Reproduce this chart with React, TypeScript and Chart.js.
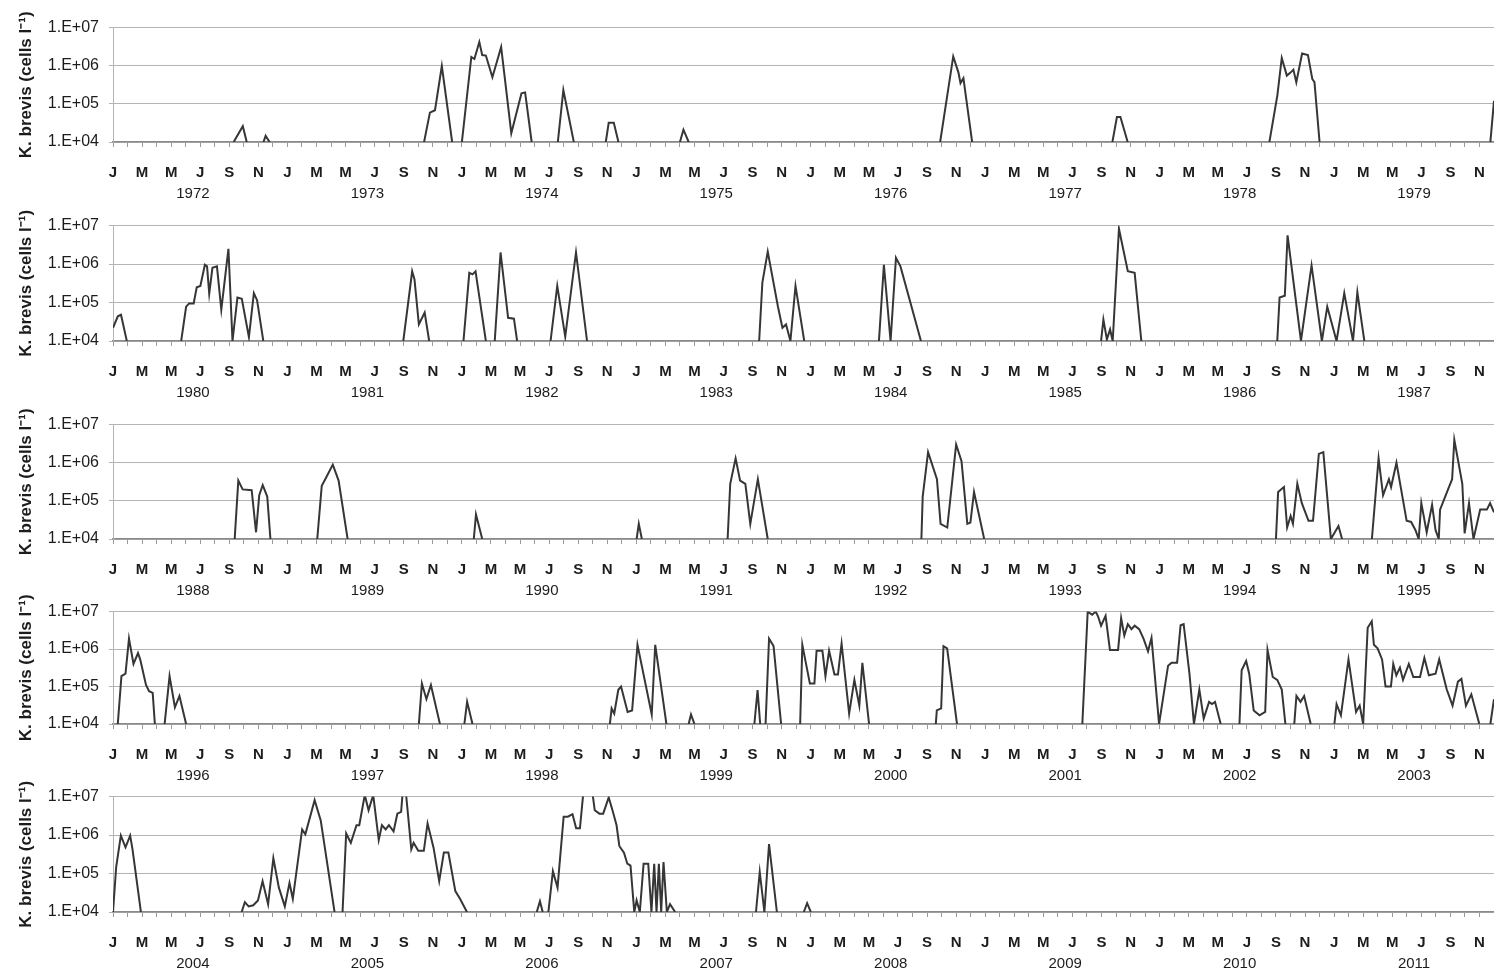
import React, { useEffect, useRef } from "react";
import { Chart, registerables } from "chart.js";

Chart.register(...registerables);

// ---------- tick labels ----------
const monthLetters = ["J", "M", "M", "J", "S", "N"];
const yTickValues = [1e4, 1e5, 1e6, 1e7];
const yTickLabels = ["1.E+04", "1.E+05", "1.E+06", "1.E+07"];

const years1 = ["1972", "1973", "1974", "1975", "1976", "1977", "1978", "1979"];
const years2 = ["1980", "1981", "1982", "1983", "1984", "1985", "1986", "1987"];
const years3 = ["1988", "1989", "1990", "1991", "1992", "1993", "1994", "1995"];
const years4 = ["1996", "1997", "1998", "1999", "2000", "2001", "2002", "2003"];
const years5 = ["2004", "2005", "2006", "2007", "2008", "2009", "2010", "2011"];

// ---------- data: [month index from Jan of first year, cells per litre]; 0 = not detected ----------
const kb1972: [number, number][] = [
  [8.3, 0], [8.93, 2.6e4], [9.2, 0],
  [10.35, 0], [10.5, 1.45e4], [10.77, 0],
  [21.4, 0], [21.8, 5.9e4], [22.15, 6.8e4], [22.62, 9.8e5], [23.33, 0],
  [24.0, 0], [24.65, 1.7e6], [24.86, 1.5e6], [25.2, 4.2e6], [25.4, 1.9e6], [25.65, 1.85e6], [26.1, 5e5],
  [26.7, 3.1e6], [27.4, 1.7e4], [28.1, 1.9e5], [28.35, 2e5], [28.8, 0],
  [30.6, 0], [30.98, 2.3e5], [31.7, 0],
  [33.9, 0], [34.1, 3.2e4], [34.45, 3.2e4], [34.77, 0],
  [39.0, 0], [39.24, 2.1e4], [39.6, 0],
  [56.9, 0], [57.8, 1.75e6], [58.16, 6.6e5], [58.3, 3.5e5], [58.5, 4.7e5], [59.1, 0],
  [68.75, 0], [69.06, 4.5e4], [69.3, 4.5e4], [69.8, 0],
  [79.55, 0], [80.1, 1.7e5], [80.4, 1.6e6], [80.75, 5.5e5], [81.0, 6.6e5], [81.2, 7.9e5], [81.4, 3.7e5],
  [81.8, 2.1e6], [82.2, 1.9e6], [82.5, 4.5e5], [82.65, 3.7e5], [83.0, 0],
  [94.75, 0], [95, 1.2e5],
];

const kb1980: [number, number][] = [
  [0, 2.2e4], [0.33, 4.4e4], [0.55, 4.8e4], [0.95, 0],
  [4.69, 0], [5.03, 7.8e4], [5.24, 9.5e4], [5.55, 9.5e4], [5.76, 2.5e5], [6.01, 2.7e5], [6.32, 9.6e5],
  [6.47, 8.7e5], [6.62, 1.7e5], [6.84, 8e5], [7.15, 8.7e5], [7.45, 6.5e4], [7.94, 2.5e6], [8.22, 0],
  [8.56, 1.35e5], [8.86, 1.25e5], [9.35, 1.26e4], [9.69, 1.75e5], [9.91, 1.15e5], [10.34, 0],
  [19.97, 0], [20.58, 6.5e5], [20.74, 4e5], [21.04, 2.7e4], [21.44, 5.5e4], [21.75, 0],
  [24.11, 0], [24.51, 5.9e5], [24.73, 5.4e5], [24.94, 6.5e5], [25.65, 0],
  [26.26, 0], [26.66, 2e6], [27.18, 4e4], [27.58, 3.8e4], [27.8, 0],
  [30.1, 0], [30.56, 2.7e5], [31.11, 1.3e4], [31.85, 2e6], [32.61, 0],
  [44.45, 0], [44.67, 3.3e5], [45.04, 2.1e6], [45.74, 7.9e4], [46.05, 2.2e4], [46.3, 2.7e4], [46.6, 0],
  [46.95, 2.7e5], [47.55, 0],
  [52.69, 0], [53.03, 9.6e5], [53.49, 0], [53.86, 1.45e6], [54.17, 8.7e5], [55.58, 0],
  [67.97, 0], [68.13, 3.6e4], [68.37, 1.1e4], [68.59, 2e4], [68.77, 0], [69.2, 8.3e6], [69.81, 6.5e5],
  [70.28, 5.9e5], [70.74, 0],
  [80.09, 0], [80.25, 1.35e5], [80.61, 1.5e5], [80.8, 5.6e6], [81.72, 0], [82.45, 9.2e5], [83.16, 0],
  [83.53, 7.8e4], [84.17, 0], [84.7, 1.75e5], [85.3, 0], [85.6, 1.85e5], [86.08, 0],
];

const kb1988: [number, number][] = [
  [8.37, 0], [8.62, 3.4e5], [8.92, 2e5], [9.54, 1.9e5], [9.84, 1.5e4], [10.06, 1.4e5], [10.3, 2.6e5],
  [10.61, 1.3e5], [10.83, 0],
  [14.05, 0], [14.36, 2.5e5], [14.6, 3.7e5], [15.12, 8.9e5], [15.52, 3.4e5], [16.14, 0],
  [24.82, 0], [24.97, 4.4e4], [25.4, 0],
  [36.02, 0], [36.17, 2.5e4], [36.38, 0],
  [42.28, 0], [42.46, 2.8e5], [42.83, 1.3e6], [43.14, 3.4e5], [43.5, 2.8e5], [43.84, 2.5e4], [44.36, 3.7e5],
  [45.04, 0],
  [55.61, 0], [55.7, 1.3e5], [56.07, 1.9e6], [56.68, 3.7e5], [56.93, 2.5e4], [57.39, 2e4], [58.0, 3e6],
  [58.37, 1.1e6], [58.77, 2.5e4], [58.98, 2.7e4], [59.23, 1.7e5], [59.54, 4.9e4], [59.93, 0],
  [80.0, 0], [80.15, 1.7e5], [80.55, 2.3e5], [80.77, 2e4], [81.01, 4e4], [81.17, 2.5e4], [81.47, 2.8e5],
  [81.78, 8.7e4], [82.24, 3e4], [82.55, 3e4], [82.95, 1.7e6], [83.26, 1.9e6], [83.78, 0], [84.3, 2.2e4],
  [84.55, 0],
  [86.6, 0], [87.06, 1.3e6], [87.37, 1.4e5], [87.77, 3.7e5], [87.92, 2.3e5], [88.29, 1e6], [88.99, 3e4],
  [89.3, 2.8e4], [89.6, 1.7e4], [89.82, 0], [90.0, 8.7e4], [90.37, 1.5e4], [90.74, 7.9e4], [90.98, 1.7e4],
  [91.2, 0], [91.29, 5.9e4], [91.9, 2.3e5], [92.12, 3.7e5], [92.27, 4e6], [92.82, 2.8e5], [92.98, 1.4e4],
  [93.28, 8.7e4], [93.59, 0], [94.05, 5.9e4], [94.51, 5.9e4], [94.73, 8.7e4], [95, 5e4],
];

const kb1996: [number, number][] = [
  [0.33, 0], [0.58, 1.9e5], [0.86, 2.2e5], [1.1, 1.9e6], [1.41, 4e5], [1.72, 7.8e5], [1.87, 5.3e5],
  [2.27, 1.1e5], [2.48, 7.5e4], [2.73, 6.8e4], [2.88, 0],
  [3.55, 0], [3.89, 1.9e5], [4.26, 2.8e4], [4.57, 5.6e4], [5.03, 0],
  [21.04, 0], [21.25, 1.2e5], [21.56, 4.6e4], [21.87, 1.1e5], [22.49, 0],
  [24.17, 0], [24.36, 3.9e4], [24.73, 0],
  [34.18, 0], [34.3, 2.6e4], [34.48, 1.9e4], [34.76, 8.2e4], [34.95, 1e5], [35.4, 2.1e4], [35.71, 2.3e4],
  [36.08, 1.3e6], [37.06, 1.8e4], [37.3, 1.3e6], [38.07, 0],
  [39.6, 0], [39.76, 1.8e4], [40.0, 0],
  [44.12, 0], [44.34, 8e4], [44.52, 0], [44.89, 0], [45.13, 1.9e6], [45.44, 1.2e6], [45.96, 0],
  [47.27, 0], [47.42, 1.3e6], [47.94, 1.2e5], [48.25, 1.2e5], [48.4, 9e5], [48.8, 9e5], [49.01, 1.9e5],
  [49.26, 9e5], [49.63, 2.1e5], [49.87, 2.1e5], [50.12, 1.4e6], [50.64, 1.9e4], [51.0, 1.5e5],
  [51.34, 3.1e4], [51.55, 4.3e5], [52.01, 0],
  [56.6, 0], [56.67, 2.3e4], [56.97, 2.6e4], [57.13, 1.2e6], [57.38, 1.05e6], [58.06, 0],
  [66.68, 0], [67.05, 1e7], [67.36, 8.2e6], [67.6, 1e7], [67.76, 7.5e6], [67.97, 4.2e6], [68.28, 7.7e6],
  [68.58, 9.5e5], [69.14, 9.5e5], [69.35, 6.7e6], [69.57, 2.3e6], [69.81, 4.6e6], [70.06, 3.4e6],
  [70.28, 4.2e6], [70.59, 3.4e6], [70.89, 1.9e6], [71.2, 8.7e5], [71.44, 2e6], [71.96, 0], [72.58, 3.6e5],
  [72.82, 4.3e5], [73.2, 4.3e5], [73.44, 4.3e6], [73.65, 4.6e6], [74.05, 2.2e5], [74.36, 0], [74.73, 8.3e4],
  [75.03, 1.4e4], [75.4, 3.9e4], [75.6, 3.4e4], [75.81, 3.9e4], [76.2, 0],
  [77.49, 0], [77.64, 2.7e5], [77.95, 4.8e5], [78.16, 2.2e5], [78.47, 2.3e4], [78.87, 1.7e4], [79.26, 2.1e4],
  [79.42, 9.5e5], [79.78, 1.8e5], [80.09, 1.5e5], [80.4, 8.3e4], [80.65, 0],
  [81.26, 0], [81.41, 5.6e4], [81.69, 3.9e4], [81.94, 5.6e4], [82.39, 0],
  [84.02, 0], [84.17, 3.4e4], [84.47, 1.7e4], [84.99, 5.3e5], [85.51, 2.1e4], [85.76, 3.1e4], [86.0, 0],
  [86.31, 3.7e6], [86.59, 5.5e6], [86.74, 1.3e6], [86.99, 1.05e6], [87.3, 5.3e5], [87.54, 1e5], [87.91, 1e5],
  [88.07, 4e5], [88.28, 2e5], [88.53, 3.2e5], [88.74, 1.5e5], [89.14, 4e5], [89.45, 1.8e5], [89.91, 1.8e5],
  [90.21, 5.8e5], [90.52, 2e5], [90.98, 2.2e5], [91.23, 5.3e5], [91.75, 8.3e4], [92.15, 3.1e4],
  [92.52, 1.35e5], [92.76, 1.6e5], [93.07, 3.1e4], [93.44, 6.2e4], [93.99, 0],
  [94.75, 0], [95, 4.6e4],
];

const kb2004: [number, number][] = [
  [0, 0], [0.22, 1.5e5], [0.54, 9.7e5], [0.86, 4.8e5], [1.18, 9.7e5], [1.34, 4.3e5], [1.92, 0],
  [8.85, 0], [9.07, 1.8e4], [9.33, 1.4e4], [9.65, 1.5e4], [9.97, 2e4], [10.29, 6.3e4], [10.67, 1.6e4],
  [11.03, 2.5e5], [11.41, 4.3e4], [11.82, 1.4e4], [12.14, 5.7e4], [12.37, 2.2e4], [13.01, 1.4e6],
  [13.23, 1.05e6], [13.87, 8.1e6], [14.29, 2.4e6], [15.24, 0],
  [15.79, 0], [16.04, 1.1e6], [16.36, 6.3e5], [16.75, 1.8e6], [16.94, 1.8e6], [17.32, 1.1e7], [17.58, 4.4e6],
  [17.9, 1.1e7], [18.28, 7.4e5], [18.5, 1.8e6], [18.76, 1.4e6], [18.98, 1.8e6], [19.3, 1.25e6], [19.56, 3.6e6],
  [19.82, 4e6], [19.94, 1.5e7], [20.13, 1.5e7], [20.52, 4.3e5], [20.68, 6.3e5], [21.0, 3.9e5], [21.38, 3.9e5],
  [21.64, 2e6], [22.05, 4.7e5], [22.44, 6.3e4], [22.76, 3.5e5], [23.07, 3.5e5], [23.55, 3.5e4], [23.87, 2.2e4],
  [24.35, 0],
  [29.15, 0], [29.37, 1.9e4], [29.56, 0],
  [29.95, 0], [30.26, 1.15e5], [30.58, 4.3e4], [31.0, 3e6], [31.29, 3e6], [31.61, 3.5e6], [31.86, 1.5e6],
  [32.12, 1.5e6], [32.34, 1.1e7], [32.5, 2e7], [32.9, 2e7], [33.0, 1.1e7], [33.14, 4.4e6], [33.46, 3.6e6],
  [33.72, 3.6e6], [34.1, 9.5e6], [34.36, 4.4e6], [34.64, 1.8e6], [34.83, 5.2e5], [35.15, 3.5e5], [35.38, 1.8e5],
  [35.6, 1.6e5], [35.86, 0], [36.02, 2e4], [36.24, 0], [36.5, 1.8e5], [36.82, 1.8e5], [37.04, 0],
  [37.23, 1.8e5], [37.39, 0], [37.55, 1.8e5], [37.71, 0], [37.87, 2e5], [38.1, 0], [38.32, 1.6e4], [38.67, 0],
  [44.23, 0], [44.49, 1.1e5], [44.81, 0], [45.13, 5.8e5], [45.67, 0],
  [47.52, 0], [47.75, 1.7e4], [48.0, 0],
];

const FLOOR = 1e4;
const LINE = "#363636";
const FONT = "'Liberation Sans', Arial, Helvetica, sans-serif";
const TEXT = "#1c1c1c";

type PanelProps = { data: [number, number][]; years: string[]; top: number; bottom: number };

const PAD_TOP = 15;
const X_H = 39;
const X2_H = 22;

function Panel({ data, years, top, bottom }: PanelProps) {
  const ref = useRef<HTMLCanvasElement | null>(null);
  const height = PAD_TOP + (bottom - top) + X_H + X2_H;

  useEffect(() => {
    if (!ref.current) return;
    const pts = data.map(([m, v]) => ({ x: m, y: v <= FLOOR ? FLOOR : v }));
    const chart = new Chart(ref.current, {
      type: "line",
      data: {
        datasets: [
          {
            data: pts,
            borderColor: LINE,
            borderWidth: 2,
            pointRadius: 0,
            tension: 0,
            fill: false,
            segment: {
              borderColor: (ctx: any) =>
                ctx.p0.parsed.y <= FLOOR && ctx.p1.parsed.y <= FLOOR ? "rgba(0,0,0,0)" : LINE,
            },
          },
        ],
      },
      options: {
        responsive: false,
        animation: false,
        devicePixelRatio: 1,
        layout: { padding: { top: PAD_TOP, left: 0, right: 0, bottom: 0 } },
        plugins: { legend: { display: false }, tooltip: { enabled: false } },
        scales: {
          x: {
            type: "linear",
            position: "bottom",
            weight: 0,
            min: 0,
            max: 95,
            clip: false,
            afterBuildTicks: (axis: any) => {
              const t: { value: number }[] = [];
              for (let i = 0; i <= 95; i++) t.push({ value: i });
              axis.ticks = t;
            },
            afterFit: (s: any) => {
              s.height = X_H;
              s.paddingLeft = 0;
              s.paddingRight = 0;
            },
            ticks: {
              autoSkip: false,
              maxRotation: 0,
              padding: 17,
              color: TEXT,
              font: { family: FONT, size: 15, weight: "bold" },
              callback: (v: any) => {
                const n = Math.round(Number(v));
                return n % 2 === 0 ? monthLetters[(n % 12) / 2] : "";
              },
            },
            grid: { drawOnChartArea: false, drawTicks: true, tickLength: 5, color: "#9a9a9a" },
            border: { display: true, color: "#8a8a8a", width: 1.5 },
          },
          x2: {
            type: "linear",
            position: "bottom",
            weight: 1,
            min: 0,
            max: 95,
            clip: false,
            afterBuildTicks: (axis: any) => {
              axis.ticks = years.map((_, i) => ({ value: i * 12 + 5.5 }));
            },
            afterFit: (s: any) => {
              s.height = X2_H;
              s.paddingLeft = 0;
              s.paddingRight = 0;
            },
            ticks: {
              autoSkip: false,
              maxRotation: 0,
              padding: -4.5,
              color: TEXT,
              font: { family: FONT, size: 15 },
              callback: (v: any) => years[Math.round((Number(v) - 5.5) / 12)],
            },
            grid: { display: false },
            border: { display: false },
          },
          y: {
            type: "logarithmic",
            min: 1e4,
            max: 1e7,
            clip: false,
            afterBuildTicks: (axis: any) => {
              axis.ticks = yTickValues.map((v) => ({ value: v }));
            },
            afterFit: (s: any) => {
              s.width = 113;
            },
            ticks: {
              padding: 10,
              color: TEXT,
              font: { family: FONT, size: 16 },
              callback: (_v: any, i: number) => yTickLabels[i],
            },
            grid: { color: "#b4b4b4", lineWidth: 1, drawTicks: true, tickLength: 4 },
            border: { display: true, color: "#b4b4b4" },
            title: {
              display: true,
              text: "K. brevis (cells l\u207B\u00B9)",
              color: TEXT,
              font: { family: FONT, size: 17, weight: "bold" },
              padding: { top: 16, bottom: 0 },
            },
          },
        },
      },
    } as any);
    return () => chart.destroy();
  }, [data, years]);

  return (
    <canvas
      ref={ref}
      width={1494}
      height={height}
      style={{ position: "absolute", left: 0, top: top - PAD_TOP, width: 1494, height, display: "block" }}
    />
  );
}

export default function App() {
  return (
    <div style={{ position: "absolute", left: 0, top: 0, width: 1494, height: 969, background: "#ffffff", overflow: "hidden" }}>
      <Panel data={kb1972} years={years1} top={23} bottom={142} />
      <Panel data={kb1980} years={years2} top={221} bottom={341} />
      <Panel data={kb1988} years={years3} top={420} bottom={539} />
      <Panel data={kb1996} years={years4} top={607} bottom={724} />
      <Panel data={kb2004} years={years5} top={792} bottom={912} />
    </div>
  );
}
